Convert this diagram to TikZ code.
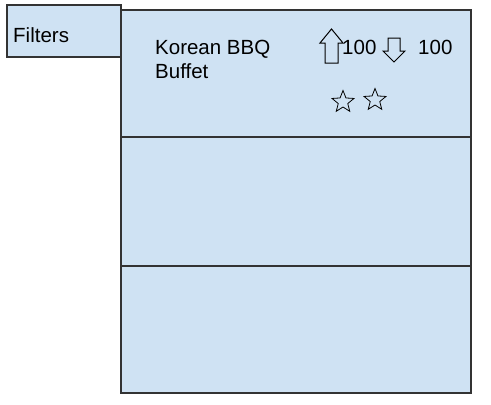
\documentclass[tikz,border=0pt]{standalone}
\usepackage{fontspec}
\setmainfont{Liberation Sans}
\usetikzlibrary{shapes.geometric,positioning}
\definecolor{cardblue}{HTML}{CFE2F3}
\definecolor{cardline}{HTML}{333333}

\begin{document}
\begin{tikzpicture}[x=1bp, y=-1bp,
    card/.style={draw=cardline, fill=cardblue, line width=1.2bp},
    label/.style={anchor=base west, inner sep=0pt, font=\fontsize{20.5bp}{24bp}\selectfont},
    vote/.style={draw=black, line width=1bp, line join=miter},
    rating/.style={star, star points=5, star point ratio=2.3, minimum size=23bp, inner sep=0pt, draw=black, line width=0.8bp}]
    \useasboundingbox (0,0) rectangle (491,404);
    % list of results
    \draw[card] (121,10) rectangle (471,393);
    \draw[card] (121,137) -- (471,137);
    \draw[card] (121,266) -- (471,266);
    % filter tab
    \draw[card] (7,5) rectangle (121,57);
    \node[label] (filters) at (13,42) {Filters};
    % first result
    \node[label] (name) at (155,54) {Korean BBQ};
    \node[label] (name2) at (155,78) {Buffet};
    \draw[vote] (325,63) -- (325,43) -- (320,43) -- (331.5,29) -- (343,43) -- (338,43) -- (338,63) -- cycle;
    \node[label] (upcount) at (342,54) {100};
    \draw[vote] (388,38) -- (388,51) -- (383,51) -- (394,62) -- (405,51) -- (400,51) -- (400,38) -- cycle;
    \node[label] (downcount) at (418,54) {100};
    \node[rating] (star1) at (343,102) {};
    \node[rating] (star2) at (375,100) {};
\end{tikzpicture}
\end{document}
